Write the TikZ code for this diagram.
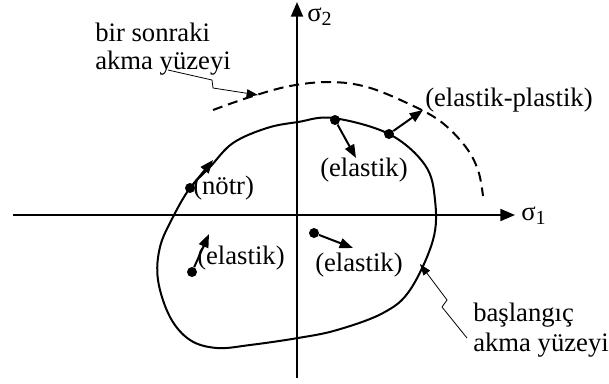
\documentclass[tikz,border=0pt]{standalone}
\usepackage{fontspec}
\setmainfont{Liberation Serif}
\usetikzlibrary{arrows.meta}

\tikzset{
    lbl/.style={inner sep=0pt, anchor=west, font=\fontsize{20}{24}\selectfont},
    dot/.style={circle, fill, inner sep=0pt, minimum size=7.5pt},
    axis/.style={line width=1.5pt, -{Triangle[length=11pt,width=9pt]}},
    vec/.style={line width=1.5pt, -{Triangle[length=10pt,width=7.5pt]}},
    leader/.style={line width=0.6pt, -{Triangle[length=8.5pt,width=6pt]}}
}
\newcommand{\sig}[1]{σ\raisebox{-0.35ex}{\fontsize{15}{15}\selectfont #1}}

\begin{document}
\begin{tikzpicture}[x=0.75pt,y=-0.75pt]
\useasboundingbox (0,0) rectangle (609,383);

% Axes
\coordinate (xstart) at (13,215);
\coordinate (xend) at (515,215);
\coordinate (ystart) at (297,378);
\coordinate (yend) at (297,2);
\draw[axis] (xstart) -- (xend);
\draw[axis] (ystart) -- (yend);
\node[lbl] (s1) at (521,216) {\sig{1}};
\node[lbl] (s2) at (307,17) {\sig{2}};

% Initial yield surface
\draw[line width=1.5pt] plot[smooth cycle, tension=0.6] coordinates {
    (298,122) (333,118) (389,134) (425,165) (435,200) (433,240)
    (410,290) (383,313) (337,330) (298,338) (250,345) (217,348)
    (190,340) (170,317) (158,280) (160,247) (173,217) (190,188)
    (210,167) (233,143) (267,128)};

% Subsequent yield surface
\draw[line width=1.5pt, dash pattern=on 7.5pt off 4.5pt] plot[smooth, tension=0.6] coordinates {
    (213,110) (250,97) (290,86) (330,82) (367,87) (407,103)
    (440,121) (465,146) (478,170) (483,196)};

% Load points
\node[dot] (notr) at (190,188) {};
\node[dot] (etop) at (335,120) {};
\node[dot] (ep) at (389,134) {};
\node[dot] (eleft) at (192,272) {};
\node[dot] (eright) at (314,233) {};

\coordinate (notrtip) at (213,160);
\coordinate (etoptip) at (356,158);
\coordinate (eptip) at (423,110);
\coordinate (elefttip) at (209,234);
\coordinate (erighttip) at (353,248);

\draw[vec] (notr) -- (notrtip);
\draw[vec] (etop) -- (etoptip);
\draw[vec] (ep) -- (eptip);
\draw[vec] (eleft) -- (elefttip);
\draw[vec] (eright) -- (erighttip);

\node[lbl] (lnotr) at (193,188) {(nötr)};
\node[lbl] (ltop) at (320,170) {(elastik)};
\node[lbl] (lep) at (425,100) {(elastik-plastik)};
\node[lbl] (lleft) at (197,258) {(elastik)};
\node[lbl] (lright) at (315,265) {(elastik)};

% Leader labels
\node[lbl] (next1) at (95,32) {bir sonraki};
\node[lbl] (next2) at (95,63) {akma yüzeyi};
\node[lbl] (init1) at (473,315) {başlangıç};
\node[lbl] (init2) at (473,345) {akma yüzeyi};

\coordinate (na) at (168,70);
\coordinate (nend) at (258,95);
\coordinate (ia) at (467,338);
\coordinate (iend) at (420,264);
\draw[leader] (na) -- (212,80) -- (213,88) -- (nend);
\draw[leader] (ia) -- (442,307) -- (447,300) -- (iend);

\end{tikzpicture}
\end{document}
